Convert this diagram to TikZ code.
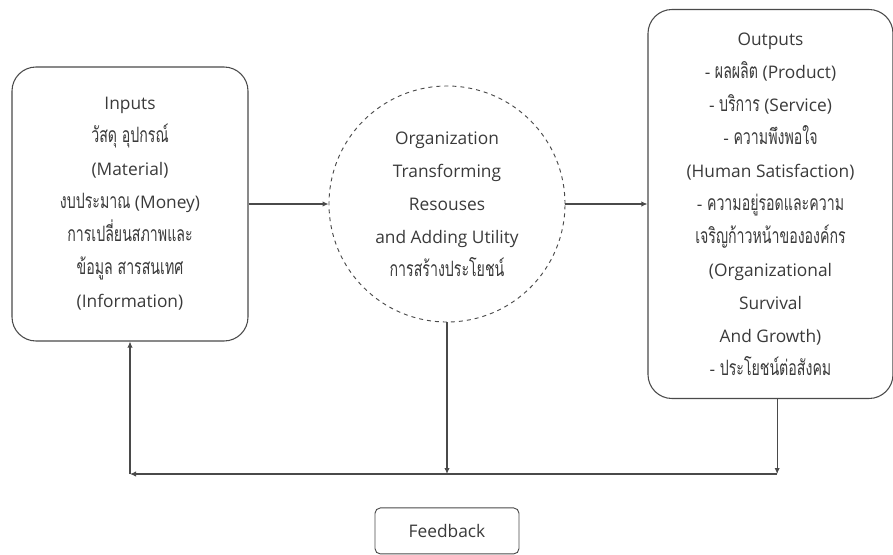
\documentclass[tikz,border=0pt]{standalone}
\usepackage{fontspec}
\setmainfont{Open Sans}
\newfontfamily\thaifont[Script=Thai, Scale=1.22, FakeStretch=0.67]{Loma}
\newcommand{\thaitxt}[1]{{\thaifont #1}}
\usetikzlibrary{positioning, arrows.meta}
\definecolor{linegray}{HTML}{4A4A4A}
\definecolor{textgray}{HTML}{3A3A3A}

\begin{document}
\begin{tikzpicture}[
    x=0.75pt, y=-0.75pt,
    font=\fontsize{13}{24.75}\selectfont,
    text=textgray,
    % Styles
    inbox/.style={
        draw=linegray,
        line width=0.8pt,
        rounded corners=18pt,
        minimum width=177pt,
        minimum height=205.5pt,
        align=center
    },
    outbox/.style={
        inbox,
        minimum width=183.75pt,
        minimum height=291.75pt
    },
    process/.style={
        draw=linegray,
        dashed,
        line width=0.7pt,
        circle,
        inner sep=0pt,
        minimum size=177pt,
        align=center
    },
    fbbox/.style={
        draw=linegray,
        line width=0.7pt,
        rounded corners=4pt,
        minimum width=108pt,
        minimum height=34.5pt
    },
    arrow/.style={-{Latex[length=4.5pt,width=4pt]}, draw=linegray, line width=0.8pt}
]
    \useasboundingbox (0,0) rectangle (893,554);

    % --- SYSTEM ---
    \node[inbox] (inputs) at (130,204) {Inputs\\\thaitxt{วัสดุ อุปกรณ์}\\(Material)\\\thaitxt{งบประมาณ} (Money)\\\thaitxt{การเปลี่ยนสภาพและ}\\\thaitxt{ข้อมูล สารสนเทศ}\\(Information)};

    \node[process, right=60pt of inputs] (org) {Organization\\Transforming\\Resouses\\and Adding Utility\\\thaitxt{การสร้างประโยชน์}};

    \node[outbox, right=61.5pt of org] (outputs) {Outputs\\- \thaitxt{ผลผลิต} (Product)\\- \thaitxt{บริการ} (Service)\\- \thaitxt{ความพึงพอใจ}\\(Human Satisfaction)\\- \thaitxt{ความอยู่รอดและความ}\\\thaitxt{เจริญก้าวหน้าขององค์กร}\\(Organizational\\Survival\\And Growth)\\- \thaitxt{ประโยชน์ต่อสังคม}};

    % Feedback label
    \node[fbbox, below=138.75pt of org] (feedback) {Feedback};

    % --- FEEDBACK LOOP ---
    \coordinate (outdrop) at ([xshift=5pt]outputs.south);
    \coordinate (fbright) at (outdrop |- 0,474);
    \coordinate (fbmid) at (org.south |- fbright);
    \coordinate (fbleft) at (inputs.south |- fbright);

    % --- ARROWS ---
    \draw[arrow] (inputs) -- (org);
    \draw[arrow] (org) -- (outputs);
    \draw[arrow] (org.south) -- (fbmid);
    \draw[arrow] (outdrop) -- (fbright);
    \draw[arrow] (fbright) -- (fbleft);
    \draw[arrow] (fbleft) -- (inputs.south);

\end{tikzpicture}
\end{document}
